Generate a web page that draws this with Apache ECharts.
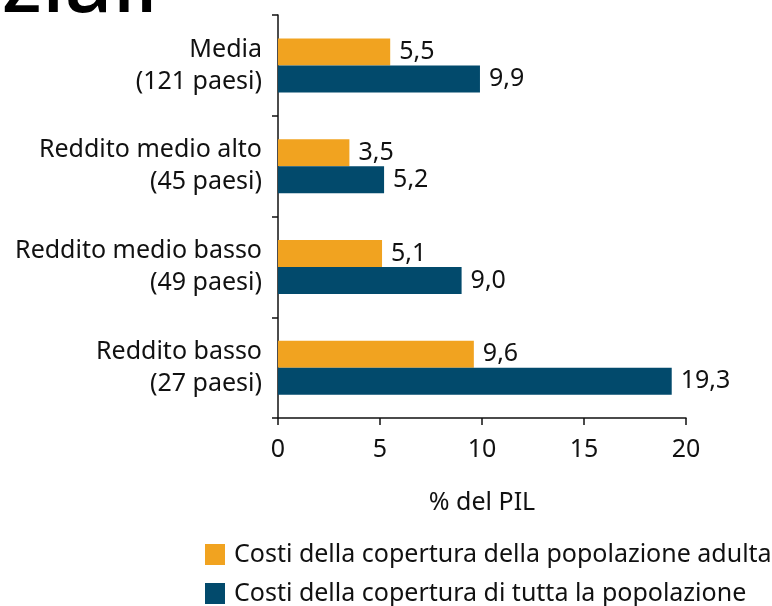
<!DOCTYPE html>
<html>
<head>
<meta charset="utf-8">
<script src="https://cdn.jsdelivr.net/npm/echarts@6/dist/echarts.min.js"></script>
<style>
  html, body { margin: 0; padding: 0; background: #fff; }
  #chart { width: 772px; height: 606px; }
</style>
</head>
<body>
<div id="chart"></div>
<script>
const categories = ['Media\n(121 paesi)', 'Reddito medio alto\n(45 paesi)', 'Reddito medio basso\n(49 paesi)', 'Reddito basso\n(27 paesi)']
const adultCosts = [5.5, 3.5, 5.1, 9.6]
const allCosts = [9.9, 5.2, 9.0, 19.3]
const seriesNames = ['Costi della copertura della popolazione adulta', 'Costi della copertura di tutta la popolazione']
const xTicks = [0, 5, 10, 15, 20]

const FONT = 'Noto Sans'
const FS = 25
const chart = echarts.init(document.getElementById('chart'), null, { renderer: 'canvas' })

const fmt = v => v.toFixed(1).replace('.', ',')

function legendAt(top, name) {
  return {
    orient: 'vertical',
    left: 205,
    top: top,
    padding: 0,
    itemWidth: 20,
    itemHeight: 21,
    icon: 'rect',
    textStyle: { fontSize: FS, color: '#111', fontFamily: FONT, padding: [0, 0, 0, 4] },
    data: [name]
  }
}

const option = {
  animation: false,
  textStyle: { fontFamily: FONT },
  grid: { left: 278, right: 86, top: 15, bottom: 188 },
  graphic: [{
    type: 'text',
    x: 158,
    y: -12,
    style: {
      text: 'ziali',
      font: '500 84px "Noto Sans"',
      fill: '#000',
      textAlign: 'right',
      textVerticalAlign: 'middle'
    }
  }],
  legend: [legendAt(542, seriesNames[0]), legendAt(581, seriesNames[1])],
  xAxis: {
    type: 'value',
    min: 0,
    max: 20,
    interval: 5,
    name: '% del PIL',
    nameLocation: 'middle',
    nameGap: 72,
    nameTextStyle: { fontSize: FS, color: '#111', fontFamily: FONT },
    axisLine: { show: true, lineStyle: { color: '#111', width: 1.5 } },
    axisTick: { show: true, length: 7, lineStyle: { color: '#111', width: 1.5 } },
    axisLabel: {
      margin: 19,
      fontSize: FS,
      color: '#111',
      fontFamily: FONT,
      formatter: v => xTicks.includes(v) ? String(v) : ''
    },
    splitLine: { show: false }
  },
  yAxis: {
    type: 'category',
    inverse: true,
    data: categories,
    axisLine: { show: true, lineStyle: { color: '#111', width: 1.5 } },
    axisTick: { show: true, length: 6, lineStyle: { color: '#111', width: 1.5 } },
    axisLabel: {
      margin: 16,
      fontSize: FS,
      lineHeight: 32,
      color: '#111',
      fontFamily: FONT,
      align: 'right'
    }
  },
  series: [
    {
      name: seriesNames[0],
      type: 'bar',
      data: adultCosts,
      barWidth: 27,
      barGap: '0%',
      itemStyle: { color: '#F1A320' },
      label: {
        show: true, position: 'right', distance: 9,
        fontSize: FS, color: '#111', fontFamily: FONT,
        formatter: p => fmt(p.value)
      }
    },
    {
      name: seriesNames[1],
      type: 'bar',
      data: allCosts,
      barWidth: 27,
      barGap: '0%',
      itemStyle: { color: '#024A6C' },
      label: {
        show: true, position: 'right', distance: 9,
        fontSize: FS, color: '#111', fontFamily: FONT,
        formatter: p => fmt(p.value)
      }
    }
  ]
}

chart.setOption(option)
window.addEventListener('resize', () => chart.resize())
</script>
</body>
</html>
